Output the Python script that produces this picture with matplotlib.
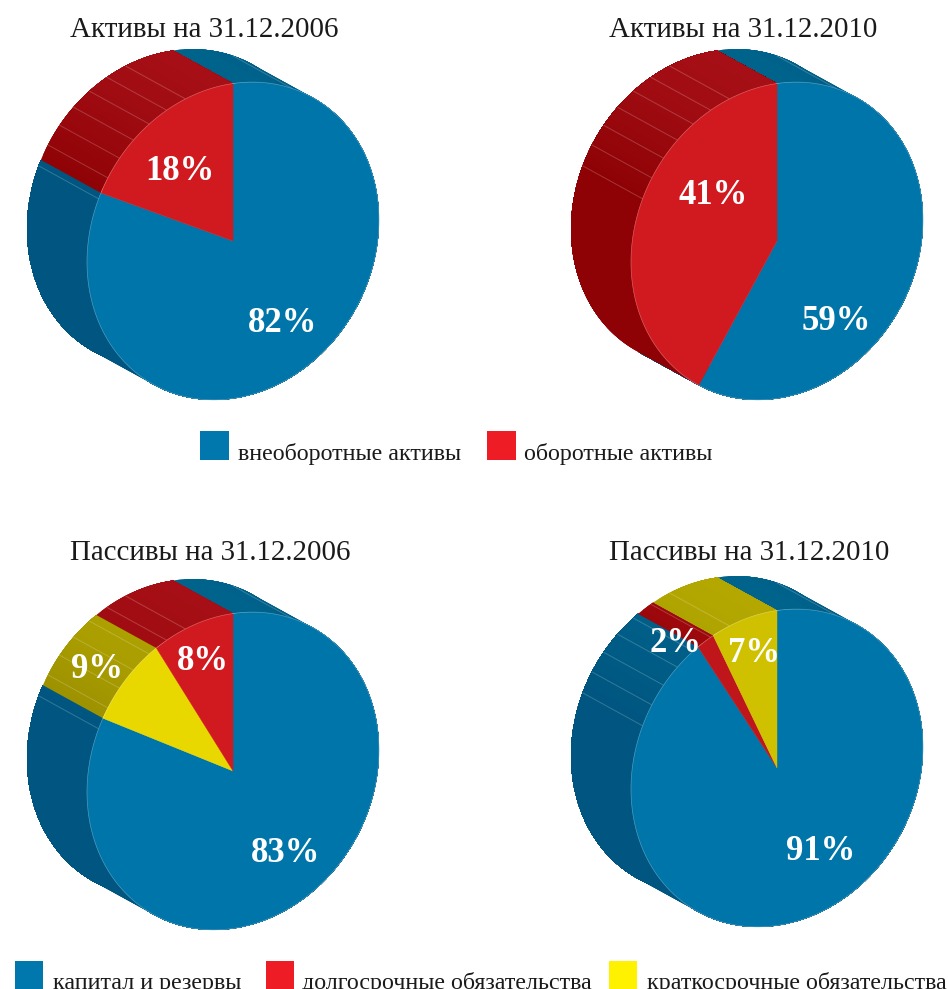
import numpy as np
import matplotlib
matplotlib.use("Agg")
import matplotlib.pyplot as plt
from matplotlib.patches import Polygon, Rectangle

plt.rcParams['font.family'] = ['Liberation Serif', 'DejaVu Serif']

# ---- data (share of the circle) ----
titles = ["Активы на 31.12.2006", "Активы на 31.12.2010",
          "Пассивы на 31.12.2006", "Пассивы на 31.12.2010"]
assets_2006 = [82, 18]
assets_2010 = [59, 41]
liab_2006 = [82.5, 8.7, 8.8]
liab_2010 = [90.9, 1.9, 7.2]
assets_labels_2006 = ["82%", "18%"]
assets_labels_2010 = ["59%", "41%"]
liab_labels_2006 = ["83%", "9%", "8%"]
liab_labels_2010 = ["91%", "2%", "7%"]
legend_top = ["внеоборотные активы", "оборотные активы"]
legend_bottom = ["капитал и резервы", "долгосрочные обязательства", "краткосрочные обязательства"]

# ---- styles / layout ----
BLUE = dict(front="#0075a9", side_top="#00638c", side_bot="#005680")
RED = dict(front="#d11a1f", side_top="#a50f15", side_bot="#8e0205")
RED4 = dict(front="#bf161b", side_top="#a00a0e", side_bot="#8e0205")
YEL3 = dict(front="#e8d800", side_top="#b3a700", side_bot="#9c9000")
YEL4 = dict(front="#d0c100", side_top="#b3a700", side_bot="#9c9000")

A = np.array([146.0, -21.0])
B = np.array([0.0, -157.5])
D = np.array([-60.0, -33.0])
RULES = [-67, -59, -51, -43, -35, -27, -19, 24]


def hex2rgb(h):
    return np.array(matplotlib.colors.to_rgb(h))


def rim(c, deg):
    t = np.radians(np.atleast_1d(deg))
    return c + np.outer(np.sin(t), A) + np.outer(np.cos(t), B)


def draw_pie(ax, centre, values, styles, labels, label_xy, title, title_xy):
    c = np.array(centre, float)
    vals = np.array(values, float)
    edges = np.concatenate([[0], np.cumsum(vals) / vals.sum() * 360])
    # side wall: each strip runs on to the slice end and the next one paints
    # over it, so no seams show; the shade follows the angle
    for s, a0, a1 in zip(styles, edges[:-1], edges[1:]):
        for g0 in np.arange(a0, a1, 2.0):
            arc = rim(c, np.linspace(g0, a1, max(int(a1 - g0) + 2, 3)))
            tt = np.clip((1 - np.cos(np.radians(g0))) / 0.6, 0, 1)
            col = hex2rgb(s["side_top"]) * (1 - tt) + hex2rgb(s["side_bot"]) * tt
            ax.add_patch(Polygon(np.vstack([arc, (arc + D)[::-1]]), closed=True,
                                 fc=col, ec="none", zorder=2))
    # thin pale rules across the side wall
    for r in RULES:
        p = rim(c, r)[0]
        ax.plot([p[0], p[0] + D[0]], [p[1], p[1] + D[1]], color="white",
                alpha=0.2, lw=0.7, zorder=3, solid_capstyle="butt")
    # top disc
    for s, a0, a1 in zip(styles, edges[:-1], edges[1:]):
        arc = rim(c, np.linspace(a0, a1, max(int(a1 - a0) * 2, 4)))
        ax.add_patch(Polygon(np.vstack([c, arc]), closed=True, fc=s["front"],
                             ec=s["front"], lw=0.3, zorder=4))
    ring = rim(c, np.linspace(0, 360, 721))
    ax.plot(ring[:, 0], ring[:, 1], color="white", alpha=0.3, lw=0.5, zorder=5)
    for txt, (x, y) in zip(labels, label_xy):
        ax.text(x, y, txt, color="white", fontsize=25, fontweight="bold",
                ha="center", va="center", zorder=6)
    ax.text(title_xy[0], title_xy[1], title, color="#1a1a1a", fontsize=20.9,
            ha="center", va="center", zorder=6)


fig = plt.figure(figsize=(9.48, 9.89), dpi=100)
ax = fig.add_axes([0, 0, 1, 1])
ax.set_xlim(0, 948)
ax.set_ylim(989, 0)
ax.axis("off")

draw_pie(ax, (233, 241), assets_2006, [BLUE, RED], assets_labels_2006,
         [(283, 324), (180, 172)], titles[0], (204.5, 30))
draw_pie(ax, (777, 241), assets_2010, [BLUE, RED], assets_labels_2010,
         [(836, 322), (713, 196)], titles[1], (743.5, 30))
draw_pie(ax, (233, 771), liab_2006, [BLUE, YEL3, RED], liab_labels_2006,
         [(286, 854), (97, 670), (203, 662)], titles[2], (210, 553))
draw_pie(ax, (777, 768), liab_2010, [BLUE, RED4, YEL4], liab_labels_2010,
         [(821, 851), (676, 643), (754, 654)], titles[3], (749, 553))

LEG_BLUE, LEG_RED, LEG_YEL = "#0078ae", "#ee1c25", "#fff200"
for txt, col, x, tx, y in zip(legend_top, [LEG_BLUE, LEG_RED], [200, 487], [238, 524], [431, 431]):
    ax.add_patch(Rectangle((x, y), 29, 29, fc=col, ec="none", zorder=2))
    ax.text(tx, 454, txt, color="#1a1a1a", fontsize=17.3, ha="left", va="center")
for txt, col, x, tx in zip(legend_bottom, [LEG_BLUE, LEG_RED, LEG_YEL], [15, 266, 609], [53, 302, 647]):
    ax.add_patch(Rectangle((x, 961), 28, 28, fc=col, ec="none", zorder=2))
    ax.text(tx, 983, txt, color="#1a1a1a", fontsize=17.3, ha="left", va="center")

fig.savefig("out.png", dpi=100, facecolor="white")
